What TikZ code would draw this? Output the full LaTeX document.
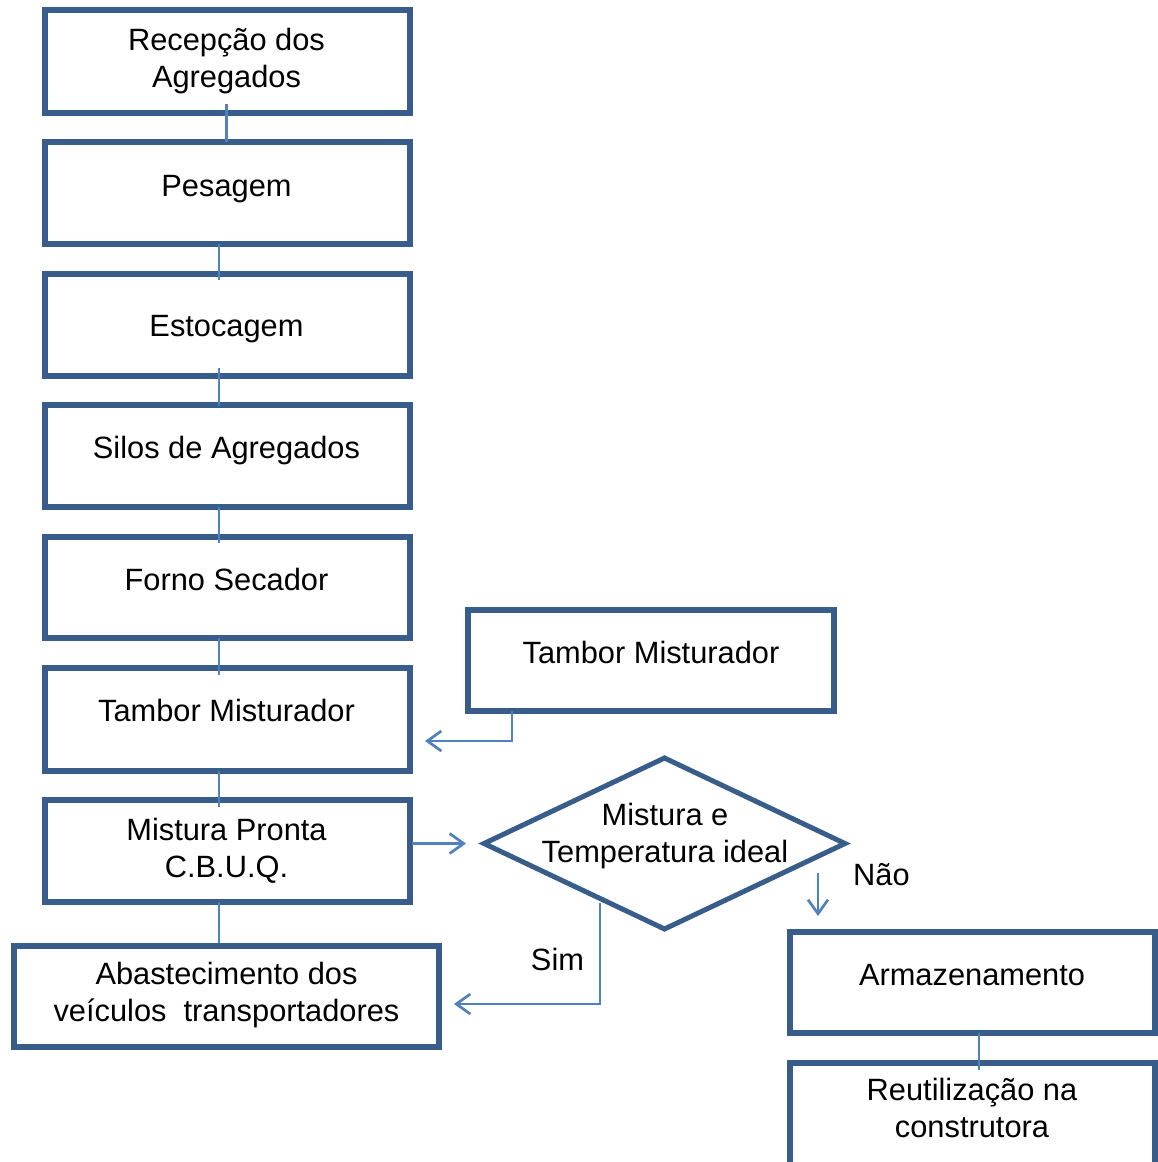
\documentclass[tikz,border=0pt]{standalone}
\usepackage{fontspec}
\setmainfont{Liberation Sans}
\usetikzlibrary{shapes.geometric,arrows.meta,calc}
\definecolor{boxblue}{HTML}{385D8A}
\definecolor{lineblue}{HTML}{4F81BD}
\begin{document}
\begin{tikzpicture}[x=1pt,y=-1pt,
  box/.style={draw=boxblue,line width=6pt,rectangle,inner sep=0pt,outer sep=0pt,minimum width=365pt},
  dia/.style={draw=boxblue,line width=5pt,diamond,inner sep=0pt,outer sep=0pt,minimum width=361pt,minimum height=171pt},
  txt/.style={font=\fontsize{30.8}{37.5}\selectfont,align=center,inner sep=0pt,anchor=north,text=black},
  conn/.style={draw=lineblue,line width=2.7pt},
  arr/.style={conn,-{Straight Barb[length=14pt,width=20pt]}}]
\useasboundingbox (0,0) rectangle (1158,1162);
\clip (0,0) rectangle (1158,1162);

% boxes
\node[box,minimum height=103.5pt] (b1) at (227,61.25) {};
\node[box,minimum height=102pt] (b2) at (227,193) {};
\node[box,minimum height=102pt] (b3) at (227,324.5) {};
\node[box,minimum height=102pt] (b4) at (227,456) {};
\node[box,minimum height=101pt] (b5) at (227,587) {};
\node[box,minimum height=103pt] (b6) at (227,719.5) {};
\node[box,minimum height=101.5pt] (b7) at (227,850.75) {};
\node[box,minimum width=424.5pt,minimum height=100.5pt] (b8) at (226.25,996.25) {};
\node[box,minimum width=366pt,minimum height=101pt] (b9) at (650.5,660) {};
\node[dia] (d) at (664.5,843.5) {};
\node[box,minimum height=101pt] (b10) at (972.5,982) {};
\node[box,minimum height=103pt] (b11) at (972.5,1114.5) {};

% texts
\node[txt] (t1) at (226.5,23.75) {\strut Recepção dos\\\strut Agregados};
\node[txt] (t2) at (226.5,170.5) {\strut Pesagem};
\node[txt] (t3) at (226.5,310.5) {\strut Estocagem};
\node[txt] (t4) at (226.5,432) {\strut Silos de Agregados};
\node[txt] (t5) at (226.5,564) {\strut Forno Secador};
\node[txt] (t6) at (226.5,695.5) {\strut Tambor Misturador};
\node[txt] (t7) at (226.5,813.75) {\strut Mistura Pronta\\\strut C.B.U.Q.};
\node[txt] (t8) at (226.5,957.75) {\strut Abastecimento dos\\\strut veículos\ \ transportadores};
\node[txt] (t9) at (651,636.75) {\strut Tambor Misturador};
\node[txt] (td) at (665,798.75) {\strut Mistura e\\\strut Temperatura ideal};
\node[txt] (t10) at (972,958.75) {\strut Armazenamento};
\node[txt] (t11) at (972,1073.75) {\strut Reutilização na\\\strut construtora};
\node[txt] (sim) at (557.5,943.75) {\strut Sim};
\node[txt,anchor=north west] (nao) at (853,858.75) {\strut Não};

% vertical connectors
\draw[conn] ($(b1.south)+(-0.3,-9)$) -- ($(b2.north)+(-0.3,0)$);
\draw[conn] ($(b2.south)+(-8,0)$) -- ($(b3.north)+(-8,6.5)$);
\draw[conn] ($(b3.south)+(-8,-7.5)$) -- ($(b4.north)+(-8,1)$);
\draw[conn] ($(b4.south)+(-8,0)$) -- ($(b5.north)+(-8,6.5)$);
\draw[conn] ($(b5.south)+(-8,0)$) -- ($(b6.north)+(-8,7)$);
\draw[conn] ($(b6.south)+(-8,0)$) -- ($(b7.north)+(-8,7)$);
\draw[conn] ($(b7.south)+(-8,0)$) -- ($(b8.north)+(-7.25,-3)$);
\draw[conn] ($(b10.south)+(6.5,0)$) -- ($(b11.north)+(6.5,7)$);

% arrows
\coordinate (e1) at ($(b6.east)+(15.5,21.5)$);
\draw[arr] ($(b9.south)+(-138.5,0)$) |- (e1);
\coordinate (e2) at ($(d.west)+(-18,0)$);
\coordinate (s2) at ($(b7.east |- e2)+(2.5,0)$);
\draw[arr] (s2) -- (e2);
\coordinate (e3) at ($(b8.east)+(15.5,7.75)$);
\draw[arr] ($(d.south)+(-64.5,-26)$) |- (e3);
\coordinate (e4) at ($(b10.north)+(-154.5,-15.5)$);
\draw[arr] ($(d.east)+(-27,29.5)$) -- (e4);
\end{tikzpicture}
\end{document}
